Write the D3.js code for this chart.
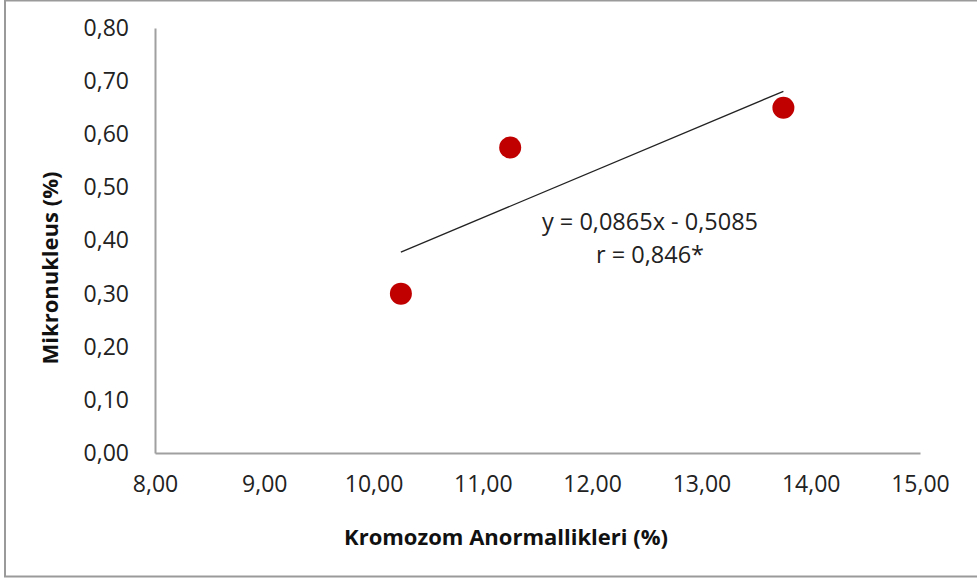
<!DOCTYPE html>
<meta charset="utf-8">
<style>
  body { margin: 0; background: #fff; }
  svg { display: block; font-family: "Open Sans", "Noto Sans", sans-serif; }
  .tick text { font-family: "Open Sans", "Noto Sans", sans-serif; font-size: 23px; fill: #222; }
  .axis path, .axis line { stroke: #a0a0a0; }
  .title { font-size: 22px; font-weight: bold; fill: #111; }
  .eq { font-size: 23.5px; fill: #222; }
</style>
<body>
<svg id="chart" width="977" height="581"></svg>
<script src="https://d3js.org/d3.v7.min.js"></script>
<script>
  // data
  var kromozom = [10.25, 11.25, 13.75];
  var mikronukleus = [0.30, 0.575, 0.65];
  var xTicks = [8, 9, 10, 11, 12, 13, 14, 15];
  var yTicks = [0, 0.1, 0.2, 0.3, 0.4, 0.5, 0.6, 0.7, 0.8];
  var slope = 0.0865, intercept = -0.5085;
  var eqLines = ["y = 0,0865x - 0,5085", "r = 0,846*"];

  var margin = {top: 28, left: 155, right: 57, bottom: 128};
  var width = 977 - margin.left - margin.right,
      height = 581 - margin.top - margin.bottom;

  var svg = d3.select('#chart');

  // outer chart frame
  svg.append('rect')
    .attr('x', 5).attr('y', 0.5)
    .attr('width', 990).attr('height', 576)
    .attr('fill', 'none')
    .attr('stroke', '#9a9a9a')
    .attr('stroke-width', 2);

  var g = svg.append('g')
    .attr('transform', 'translate(' + margin.left + ',' + margin.top + ')');

  var x = d3.scaleLinear().domain([8, 15]).range([0, width]);
  var y = d3.scaleLinear().domain([0, 0.8]).range([height, 0]);
  var fmt = function(d) { return d3.format('.2f')(d).replace('.', ','); };

  g.append('g')
    .attr('class', 'axis')
    .attr('transform', 'translate(0,' + height + ')')
    .call(d3.axisBottom(x).tickValues(xTicks).tickFormat(fmt).tickSize(0).tickPadding(23))
    .call(function(a) { a.select('.domain').attr('stroke-width', 2); });

  g.append('g')
    .attr('class', 'axis')
    .call(d3.axisLeft(y).tickValues(yTicks).tickFormat(fmt).tickSize(0).tickPadding(26))
    .call(function(a) { a.select('.domain').attr('stroke-width', 2); });

  // trendline over data range
  var xr = d3.extent(kromozom);
  g.append('line')
    .attr('x1', x(xr[0])).attr('y1', y(slope * xr[0] + intercept))
    .attr('x2', x(xr[1])).attr('y2', y(slope * xr[1] + intercept))
    .attr('stroke', '#222')
    .attr('stroke-width', 1.3);

  g.selectAll('circle')
    .data(kromozom)
    .enter().append('circle')
      .attr('cx', function(d) { return x(d); })
      .attr('cy', function(d, i) { return y(mikronukleus[i]); })
      .attr('r', 11)
      .attr('fill', '#c00000');

  svg.selectAll('.eq')
    .data(eqLines)
    .enter().append('text')
      .attr('class', 'eq')
      .attr('x', 650)
      .attr('y', function(d, i) { return 230 + i * 33; })
      .attr('text-anchor', 'middle')
      .text(function(d) { return d; });

  svg.append('text')
    .attr('class', 'title')
    .attr('x', 506).attr('y', 545)
    .attr('text-anchor', 'middle')
    .text('Kromozom Anormallikleri (%)');

  svg.append('text')
    .attr('class', 'title')
    .attr('transform', 'translate(58,268) rotate(-90)')
    .attr('text-anchor', 'middle')
    .text('Mikronukleus (%)');
</script>
</body>
